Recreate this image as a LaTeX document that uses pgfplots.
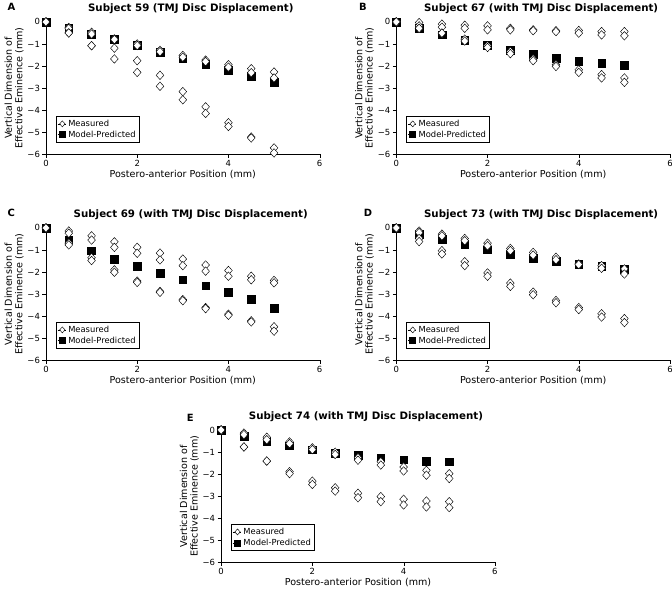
\documentclass[border=0pt]{standalone}
\usepackage{pgfplots}
\pgfplotsset{compat=1.18}
\usepackage{fontspec}
\setmainfont{DejaVu Sans}
\begin{document}
\pgfplotsset{
  panel/.style={
    scale only axis, width=275pt, height=133pt,
    xmin=0, xmax=6, ymin=-6, ymax=0,
    axis lines=left, axis line style={-, black},
    clip=false,
    xtick={0,2,4,6}, ytick={-6,-5,-4,-3,-2,-1,0},
    yticklabels={−6,−5,−4,−3,−2,−1,0},
    tick align=outside, major tick length=3.5pt,
    tick style={black},
    ticklabel style={font=\fontsize{8.5}{10}\selectfont},
    yticklabel style={xshift=1pt},
    xticklabel style={yshift=1pt},
    /pgf/number format/assume math mode=true,
    xlabel={Postero-anterior Position (mm)},
    ylabel={Vertical Dimension of\\Effective Eminence (mm)},
    label style={font=\fontsize{9.6}{10.5}\selectfont, align=center},
    xlabel style={yshift=3pt},
    ylabel style={yshift=-3pt},
    title style={font=\bfseries\fontsize{10.3}{12}\selectfont, xshift=8pt, yshift=-1pt},
    legend style={at={(0.035,0.09)}, anchor=south west, draw=black, line width=0.5pt,
      font=\fontsize{8.4}{9.5}\selectfont, row sep=-1pt, inner sep=1.5pt,
      legend cell align=left, /tikz/every even column/.append style={column sep=0pt}},
    legend image code/.code={\path (0cm,0cm) -- (0.3cm,0cm); \draw[#1, mark size=3pt] plot coordinates {(0.17cm,0cm)};},
  },
  meas/.style={only marks, mark=diamond*, mark size=4.3pt, mark options={xscale=1.2, fill=white, draw=black, line width=0.45pt}},
  mod/.style={only marks, mark=square*, mark size=3.9pt, mark options={fill=black, draw=black}},
}
\begin{tikzpicture}
\useasboundingbox (0pt,0pt) rectangle (672pt,594pt);
% ---------------- A ----------------
\begin{axis}[panel, at={(43pt,439pt)}, anchor=south west, title={Subject 59 (TMJ Disc Displacement)}]
\addlegendimage{meas}\addlegendentry{Measured}
\addlegendimage{mod}\addlegendentry{Model-Predicted}
\addplot[mod, forget plot] coordinates {(0,0) (0.5,-0.3) (1,-0.55) (1.5,-0.8) (2,-1.07) (2.5,-1.37) (3,-1.67) (3.5,-1.93) (4,-2.2) (4.5,-2.45) (5,-2.75)};
\addplot[meas, forget plot] coordinates {(0,0) (0.5,-0.25) (1,-0.47) (1.5,-0.77) (2,-1.0) (2.5,-1.29) (3,-1.52) (3.5,-1.73) (4,-1.94) (4.5,-2.12) (5,-2.27)};
\addplot[meas, forget plot] coordinates {(0,0) (0.5,-0.3) (1,-0.55) (1.5,-0.8) (2,-1.07) (2.5,-1.35) (3,-1.6) (3.5,-1.8) (4,-2.05) (4.5,-2.3) (5,-2.54)};
\addplot[meas, forget plot] coordinates {(0,0) (0.5,-0.5) (1,-1.08) (1.5,-1.19) (2,-1.76) (2.5,-2.42) (3,-3.16) (3.5,-3.85) (4,-4.57) (4.5,-5.22) (5,-5.71)};
\addplot[meas, forget plot] coordinates {(0,0) (0.5,-0.5) (1,-1.08) (1.5,-1.68) (2,-2.29) (2.5,-2.92) (3,-3.53) (3.5,-4.15) (4,-4.74) (4.5,-5.26) (5,-5.94)};
\end{axis}
\node[font=\bfseries\fontsize{10}{12}\selectfont, anchor=north west] at (1pt,594pt) {A};
% ---------------- B ----------------
\begin{axis}[panel, at={(395pt,439pt)}, anchor=south west, title={Subject 67 (with TMJ Disc Displacement)}]
\addlegendimage{meas}\addlegendentry{Measured}
\addlegendimage{mod}\addlegendentry{Model-Predicted}
\addplot[mod, forget plot] coordinates {(0,0) (0.5,-0.3) (1,-0.58) (1.5,-0.83) (2,-1.05) (2.5,-1.27) (3,-1.47) (3.5,-1.63) (4,-1.77) (4.5,-1.88) (5,-1.97)};
\addplot[meas, forget plot] coordinates {(0,0) (0.5,-0.03) (1,-0.1) (1.5,-0.15) (2,-0.18) (2.5,-0.29) (3,-0.36) (3.5,-0.4) (4,-0.39) (4.5,-0.44) (5,-0.44)};
\addplot[meas, forget plot] coordinates {(0,0) (0.5,-0.18) (1,-0.24) (1.5,-0.29) (2,-0.36) (2.5,-0.36) (3,-0.4) (3.5,-0.44) (4,-0.51) (4.5,-0.59) (5,-0.63)};
\addplot[meas, forget plot] coordinates {(0,0) (0.5,-0.29) (1,-0.51) (1.5,-0.78) (2,-1.08) (2.5,-1.34) (3,-1.68) (3.5,-1.94) (4,-2.17) (4.5,-2.39) (5,-2.54)};
\addplot[meas, forget plot] coordinates {(0,0) (0.5,-0.29) (1,-0.51) (1.5,-0.87) (2,-1.16) (2.5,-1.44) (3,-1.76) (3.5,-2.02) (4,-2.29) (4.5,-2.54) (5,-2.74)};
\end{axis}
\node[font=\bfseries\fontsize{10}{12}\selectfont, anchor=north west] at (354pt,594pt) {B};
% ---------------- C ----------------
\begin{axis}[panel, at={(43pt,232pt)}, anchor=south west, title={Subject 69 (with TMJ Disc Displacement)}]
\addlegendimage{meas}\addlegendentry{Measured}
\addlegendimage{mod}\addlegendentry{Model-Predicted}
\addplot[mod, forget plot] coordinates {(0,0) (0.5,-0.53) (1,-1.03) (1.5,-1.42) (2,-1.75) (2.5,-2.04) (3,-2.35) (3.5,-2.62) (4,-2.92) (4.5,-3.24) (5,-3.64)};
\addplot[meas, forget plot] coordinates {(0,0) (0.5,-0.14) (1,-0.36) (1.5,-0.63) (2,-0.88) (2.5,-1.14) (3,-1.41) (3.5,-1.68) (4,-1.93) (4.5,-2.19) (5,-2.38)};
\addplot[meas, forget plot] coordinates {(0,0) (0.5,-0.24) (1,-0.55) (1.5,-0.88) (2,-1.15) (2.5,-1.45) (3,-1.71) (3.5,-1.96) (4,-2.19) (4.5,-2.35) (5,-2.49)};
\addplot[meas, forget plot] coordinates {(0,0) (0.5,-0.69) (1,-1.35) (1.5,-1.9) (2,-2.41) (2.5,-2.88) (3,-3.25) (3.5,-3.61) (4,-3.91) (4.5,-4.21) (5,-4.48)};
\addplot[meas, forget plot] coordinates {(0,0) (0.5,-0.77) (1,-1.48) (1.5,-2.01) (2,-2.47) (2.5,-2.92) (3,-3.3) (3.5,-3.66) (4,-3.96) (4.5,-4.26) (5,-4.68)};
\end{axis}
\node[font=\bfseries\fontsize{10}{12}\selectfont, anchor=north west] at (1pt,387pt) {C};
% ---------------- D ----------------
\begin{axis}[panel, at={(395pt,232pt)}, anchor=south west, title={Subject 73 (with TMJ Disc Displacement)}]
\addlegendimage{meas}\addlegendentry{Measured}
\addlegendimage{mod}\addlegendentry{Model-Predicted}
\addplot[mod, forget plot] coordinates {(0,0) (0.5,-0.28) (1,-0.51) (1.5,-0.73) (2,-0.99) (2.5,-1.18) (3,-1.37) (3.5,-1.51) (4,-1.65) (4.5,-1.75) (5,-1.86)};
\addplot[meas, forget plot] coordinates {(0,0) (0.5,-0.14) (1,-0.28) (1.5,-0.48) (2,-0.69) (2.5,-0.93) (3,-1.11) (3.5,-1.33) (4,-1.63) (4.5,-1.71) (5,-1.86)};
\addplot[meas, forget plot] coordinates {(0,0) (0.5,-0.21) (1,-0.36) (1.5,-0.58) (2,-0.81) (2.5,-1.03) (3,-1.23) (3.5,-1.44) (4,-1.66) (4.5,-1.83) (5,-2.09)};
\addplot[meas, forget plot] coordinates {(0,0) (0.5,-0.48) (1,-1.03) (1.5,-1.53) (2,-2.04) (2.5,-2.5) (3,-2.91) (3.5,-3.29) (4,-3.61) (4.5,-3.89) (5,-4.11)};
\addplot[meas, forget plot] coordinates {(0,0) (0.5,-0.62) (1,-1.18) (1.5,-1.71) (2,-2.19) (2.5,-2.65) (3,-3.03) (3.5,-3.39) (4,-3.7) (4.5,-4.04) (5,-4.29)};
\end{axis}
\node[font=\bfseries\fontsize{10}{12}\selectfont, anchor=north west] at (359pt,387pt) {D};
% ---------------- E ----------------
\begin{axis}[panel, at={(219pt,29pt)}, anchor=south west, title={Subject 74 (with TMJ Disc Displacement)}]
\addlegendimage{meas}\addlegendentry{Measured}
\addlegendimage{mod}\addlegendentry{Model-Predicted}
\addplot[mod, forget plot] coordinates {(0,0) (0.5,-0.29) (1,-0.51) (1.5,-0.71) (2,-0.89) (2.5,-1.04) (3,-1.16) (3.5,-1.26) (4,-1.35) (4.5,-1.41) (5,-1.44)};
\addplot[meas, forget plot] coordinates {(0,0) (0.5,-0.14) (1,-0.33) (1.5,-0.54) (2,-0.81) (2.5,-1.01) (3,-1.26) (3.5,-1.44) (4,-1.68) (4.5,-1.83) (5,-1.98)};
\addplot[meas, forget plot] coordinates {(0,0) (0.5,-0.21) (1,-0.44) (1.5,-0.62) (2,-0.89) (2.5,-1.11) (3,-1.37) (3.5,-1.59) (4,-1.86) (4.5,-2.05) (5,-2.2)};
\addplot[meas, forget plot] coordinates {(0,0) (0.5,-0.77) (1,-1.41) (1.5,-1.89) (2,-2.32) (2.5,-2.62) (3,-2.87) (3.5,-3.02) (4,-3.14) (4.5,-3.22) (5,-3.25)};
\addplot[meas, forget plot] coordinates {(0,0) (0.5,-0.77) (1,-1.41) (1.5,-1.98) (2,-2.47) (2.5,-2.77) (3,-3.07) (3.5,-3.25) (4,-3.4) (4.5,-3.49) (5,-3.52)};
\end{axis}
\node[font=\bfseries\fontsize{10}{12}\selectfont, anchor=north west] at (181pt,181pt) {E};
\end{tikzpicture}
\end{document}
